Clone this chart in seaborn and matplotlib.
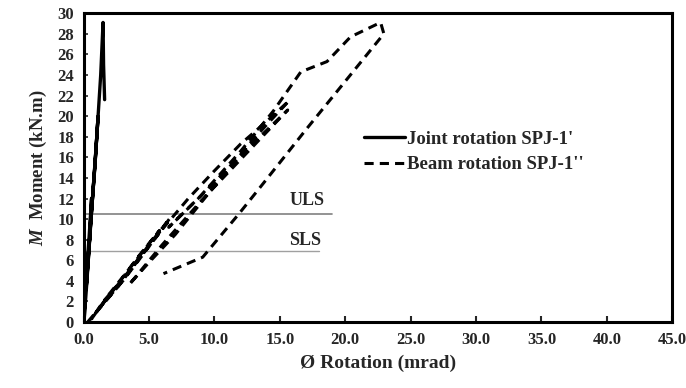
import matplotlib
matplotlib.use("Agg")
import matplotlib.pyplot as plt
import seaborn as sns
import numpy as np

# ---- data ----
joint_x = [0, 0.15, 0.45, 0.6, 0.4, 0.1, 0.05, 0.25, 0.55, 0.85, 1.1, 0.9, 0.5, 0.2,
           0.35, 0.7, 1.0, 1.3, 1.48, 1.52, 1.6]
joint_y = [0, 3.5, 8, 12, 8, 3, 0.5, 4, 10, 15, 20, 16, 9, 3.5,
           6, 12.5, 18, 24, 29.1, 25, 21.6]

beam_x = [0.3, 1.5, 3.0, 4.5, 6.6, 5.0, 3.0, 1.5, 0.6, 2.0, 4.0, 5.8, 4.2, 2.4, 1.0,
          2.6, 4.4, 6.2, 8.0, 10.0, 12.0,
          14.0, 15.7, 13.0, 10.0, 7.0, 5.0, 3.45, 6.0, 9.0, 12.0, 15.6, 12.0, 9.0, 6.5,
          8.9, 12.0, 14.5, 16.6, 18.6, 20.4, 22.7, 22.95, 17.0, 13.5, 11.86, 9.1, 6.1]
beam_y = [0, 1.8, 4.0, 6.5, 10.1, 7.5, 4.2, 2.0, 0.3, 2.8, 6.0, 8.9, 6.4, 3.3, 1.0,
          3.4, 6.4, 9.3, 12.0, 14.7, 17.3,
          19.5, 21.5, 17.8, 13.2, 8.5, 5.8, 3.6, 7.5, 11.8, 15.8, 20.6, 16.2, 12.3, 9.2,
          12.2, 16.6, 20.5, 24.3, 25.3, 27.7, 29.1, 28.0, 18.7, 13.1, 10.5, 6.3, 4.7]

uls_y, uls_xmax = 10.5, 19.0
sls_y, sls_xmax = 6.9, 18.0

x_ticks = [0, 5, 10, 15, 20, 25, 30, 35, 40, 45]
y_ticks = list(range(0, 31, 2))

series_labels = ["Joint rotation SPJ-1'", "Beam rotation SPJ-1''"]

# ---- style ----
sns.set_theme(style="white")
plt.rcParams["font.family"] = ["Liberation Serif", "DejaVu Serif"]
plt.rcParams["font.weight"] = "bold"
plt.rcParams["mathtext.fontset"] = "custom"
plt.rcParams["mathtext.it"] = "Liberation Serif:bold:italic"
plt.rcParams["mathtext.rm"] = "Liberation Serif:bold"

fig = plt.figure(figsize=(6.86, 3.88), dpi=100)
ax = fig.add_axes([0.122, 0.170, 0.858, 0.796])

sns.lineplot(x=joint_x, y=joint_y, sort=False, estimator=None, color="black",
             linewidth=2.4, ax=ax, label=series_labels[0])
sns.lineplot(x=beam_x, y=beam_y, sort=False, estimator=None, color="black",
             linewidth=2.2, ax=ax, label=series_labels[1], dashes=False)
ax.lines[1].set_linestyle((0, (3, 2)))

ax.plot([0, uls_xmax], [uls_y, uls_y], color="#808080", linewidth=1.2, zorder=1)
ax.plot([0, sls_xmax], [sls_y, sls_y], color="#a0a0a0", linewidth=1.0, zorder=1)
ax.text(17.1, 11.8, "ULS", ha="center", va="center", fontsize=13, fontweight="bold")
ax.text(16.9, 7.9, "SLS", ha="center", va="center", fontsize=13, fontweight="bold")

ax.set_xlim(0, 45)
ax.set_ylim(0, 30)
ax.set_xticks(x_ticks)
ax.set_xticklabels([f"{v:.1f}" for v in x_ticks])
ax.set_yticks(y_ticks)
ax.set_yticklabels([str(v) for v in y_ticks])
ax.tick_params(axis="x", direction="in", length=4, width=1.5, labelsize=12, pad=7, bottom=True)
ax.tick_params(axis="y", direction="in", length=3, width=1.2, labelsize=12, pad=7, left=True)
for lab in ax.get_xticklabels() + ax.get_yticklabels():
    lab.set_fontweight("bold")

for s in ax.spines.values():
    s.set_color("black")
    s.set_linewidth(2.2)

ax.set_xlabel("Ø Rotation (mrad)", fontsize=14, fontweight="bold", labelpad=5)
ax.set_ylabel(r"$\mathit{M}$  Moment (kN.m)", fontsize=13.5, fontweight="bold", labelpad=6)

leg = ax.legend(loc="upper left", bbox_to_anchor=(0.447, 0.675), frameon=False,
                handlelength=2.2, handletextpad=0.1, labelspacing=0.45,
                prop={"weight": "bold", "size": 13.5})

fig.savefig("out.png", dpi=100)
